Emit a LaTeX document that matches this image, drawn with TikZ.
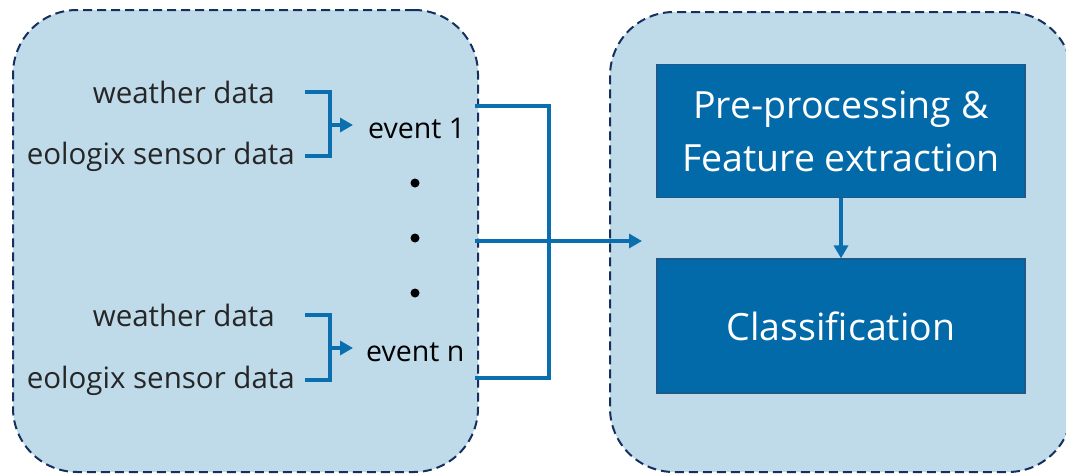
\documentclass[tikz,border=0pt]{standalone}
\usepackage{fontspec}
\setmainfont{Open Sans}
\usetikzlibrary{arrows.meta}
\definecolor{panelfill}{HTML}{BFDBEA}
\definecolor{panelline}{HTML}{15305E}
\definecolor{flow}{HTML}{0B6EAE}
\definecolor{boxfill}{HTML}{036AAA}
\definecolor{boxline}{HTML}{1D5A8A}
\definecolor{lbltext}{HTML}{262626}
\tikzset{
  panel/.style={draw=panelline, fill=panelfill, dashed, dash pattern=on 9pt off 5pt, line width=2pt, rounded corners=64pt, inner sep=0pt},
  lbl/.style={font=\fontsize{29.5}{31}\selectfont, text=lbltext, inner sep=0pt},
  evt/.style={font=\fontsize{28.5}{30}\selectfont, text=black, inner sep=0pt},
  procbox/.style={draw=boxline, fill=boxfill, line width=1.2pt, text=white, font=\fontsize{37.5}{53}\selectfont, align=center, inner sep=0pt},
  flowline/.style={draw=flow, line width=3.5pt},
  flowarrow/.style={flowline, -{Triangle[length=13pt,width=14pt]}},
  dotmark/.style={circle, fill=black, inner sep=0pt, minimum size=9pt},
}
\begin{document}
\begin{tikzpicture}[x=1pt,y=-1pt]
\useasboundingbox (0,0) rectangle (1066,474);
\clip (0,0) rectangle (1066,474);
% containers
\node[panel, minimum width=465pt, minimum height=462pt] (left) at (245.5,241) {};
\node[panel, minimum width=462pt, minimum height=460pt] (right) at (841,242) {};
% process boxes
\node[procbox, minimum width=368pt, minimum height=133pt] (pre) at (841,131) {Pre-processing \&\\Feature extraction};
\node[procbox, minimum width=368pt, minimum height=134pt] (cls) at (841,326) {Classification};
\draw[flowarrow] (pre.south) -- (cls.north);
% first event group
\node[lbl, anchor=base east] (w1) at (275,103) {weather data};
\node[lbl, anchor=base east] (s1) at (295,164) {eologix sensor data};
\node[evt, anchor=base west] (e1) at (368,138) {event 1};
\coordinate (b1t) at (305,92);
\coordinate (b1b) at (305,156);
\coordinate (b1m) at (330,125);
\coordinate (e1in) at (353,125);
\draw[flowline] (b1t) -| (b1m) |- (b1b);
\draw[flowarrow] (b1m) -- (e1in);
% dots
\node[dotmark] (d1) at (415,183) {};
\node[dotmark] (d2) at (415,238) {};
\node[dotmark] (d3) at (415,293) {};
% second event group
\node[lbl, anchor=base east] (w2) at (275,326) {weather data};
\node[lbl, anchor=base east] (s2) at (295,388) {eologix sensor data};
\node[evt, anchor=base west] (en) at (366,361) {event n};
\coordinate (b2t) at (305,315);
\coordinate (b2b) at (305,380);
\coordinate (b2m) at (330,348);
\coordinate (enin) at (353,348);
\draw[flowline] (b2t) -| (b2m) |- (b2b);
\draw[flowarrow] (b2m) -- (enin);
% outputs
\coordinate (o1) at (475,106);
\coordinate (o2) at (475,241);
\coordinate (o3) at (475,378);
\coordinate (jn) at (549,106);
\coordinate (rin) at (642,241);
\draw[flowline] (o1) -- (jn) |- (o3);
\draw[flowarrow] (o2) -- (rin);
\end{tikzpicture}
\end{document}
